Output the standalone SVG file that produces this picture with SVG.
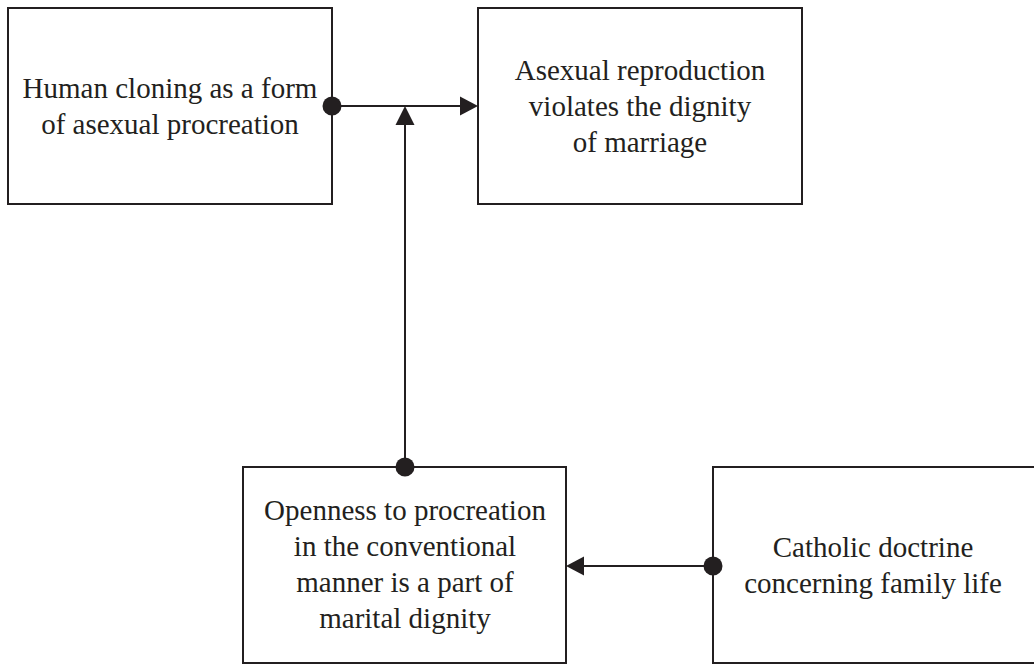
<svg xmlns="http://www.w3.org/2000/svg" width="1034" height="664" viewBox="0 0 1034 664">
  <style>
    .box { fill: #ffffff; stroke: #231f20; stroke-width: 2; }
    .label { font-family: "Liberation Serif", "Times New Roman", serif; font-size: 29px; fill: #231f20; text-anchor: middle; }
    .wire { stroke: #231f20; stroke-width: 2; fill: none; }
    .dot { fill: #231f20; }
    .head { fill: #231f20; }
  </style>
  <rect width="1034" height="664" fill="#ffffff"/>

  <g id="node-cloning">
    <rect class="box" x="8" y="8" width="324" height="196"/>
    <text class="label" x="170" y="98">Human cloning as a form</text>
    <text class="label" x="170" y="134">of asexual procreation</text>
  </g>

  <g id="node-asexual">
    <rect class="box" x="478" y="8" width="324" height="196"/>
    <text class="label" x="640" y="80">Asexual reproduction</text>
    <text class="label" x="640" y="116">violates the dignity</text>
    <text class="label" x="640" y="152">of marriage</text>
  </g>

  <g id="node-openness">
    <rect class="box" x="243" y="467" width="323" height="196"/>
    <text class="label" x="405" y="520">Openness to procreation</text>
    <text class="label" x="405" y="556">in the conventional</text>
    <text class="label" x="405" y="592">manner is a part of</text>
    <text class="label" x="405" y="628">marital dignity</text>
  </g>

  <g id="node-doctrine">
    <rect class="box" x="713" y="467" width="340" height="196"/>
    <text class="label" x="873" y="557">Catholic doctrine</text>
    <text class="label" x="873" y="593">concerning family life</text>
  </g>

  <g id="connectors">
    <!-- cloning -> asexual -->
    <line class="wire" x1="332" y1="106" x2="462" y2="106"/>
    <circle class="dot" cx="332" cy="106" r="9.5"/>
    <polygon class="head" points="478,106 460,96.5 460,115.5"/>
    <!-- openness -> link between cloning and asexual -->
    <line class="wire" x1="405" y1="467" x2="405" y2="124"/>
    <circle class="dot" cx="405" cy="467" r="9.5"/>
    <polygon class="head" points="405,106 395.5,125 414.5,125"/>
    <!-- doctrine -> openness -->
    <line class="wire" x1="713" y1="566" x2="582" y2="566"/>
    <circle class="dot" cx="713" cy="566" r="9.5"/>
    <polygon class="head" points="566,566 584,556.5 584,575.5"/>
  </g>
</svg>
